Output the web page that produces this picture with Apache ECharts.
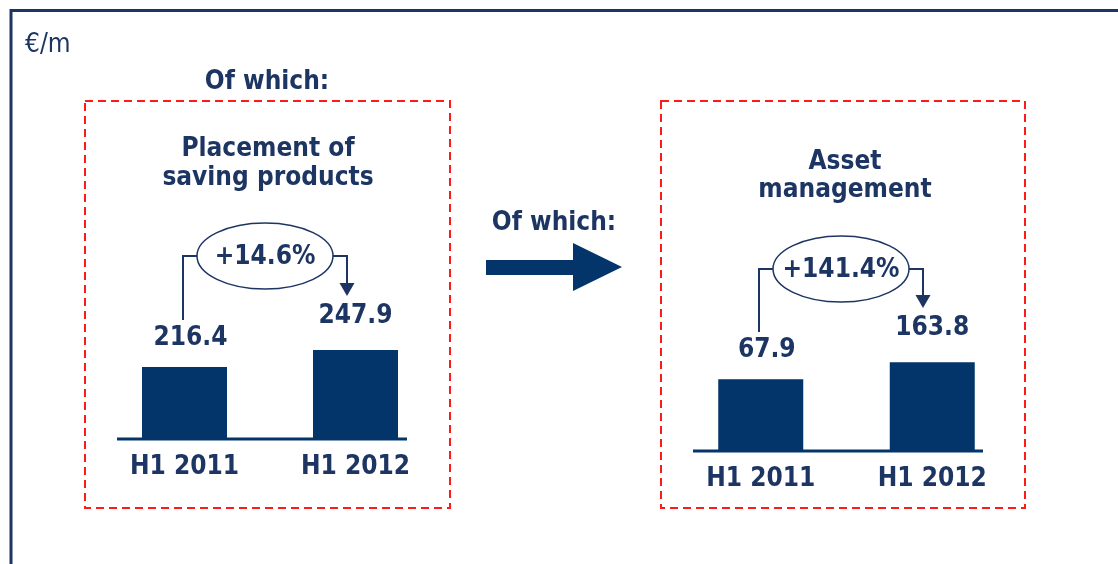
<!DOCTYPE html>
<html>
<head>
<meta charset="utf-8">
<script src="https://cdn.jsdelivr.net/npm/echarts@6/dist/echarts.min.js"></script>
<style>
  html, body { margin: 0; padding: 0; background: #fff; }
  #chart { width: 1118px; height: 564px; }
</style>
</head>
<body>
<div id="chart"></div>
<script>
// data
const categories = ['H1 2011', 'H1 2012'];
const savingValues = [216.4, 247.9];
const assetValues = [67.9, 163.8];
const growthLabels = ['+14.6%', '+141.4%'];
const panelTitles = ['Placement of\nsaving products', 'Asset\nmanagement'];
const unitLabel = '€/m';
const subLabel = 'Of which:';

const NAVY = '#1d3563';
const BAR = '#03346a';
const RED = '#ff1a1a';
const FONT = '"DejaVu Sans Condensed", "DejaVu Sans", sans-serif';

// the bars are not drawn to scale on the slide, so each panel gets its own axis window
const grids = [
  { left: 99, top: 304, width: 342, height: 135 },
  { left: 675, top: 345, width: 343, height: 106 }
];
const yRanges = [
  { min: 83, max: 333 },
  { min: -338, max: 262 }
];

const chart = echarts.init(document.getElementById('chart'));

function boldText(x, y, text, size) {
  return {
    type: 'text', x: x, y: y, z: 10,
    style: {
      text: text, fill: NAVY, font: 'bold ' + size + 'px ' + FONT,
      align: 'center', verticalAlign: 'middle'
    }
  };
}

function growthMarker(cx, cy, leftX, leftBottom, rightX, tipY, label) {
  return [
    { type: 'polyline', shape: { points: [[leftX, leftBottom], [leftX, cy], [cx - 68, cy]] },
      style: { stroke: NAVY, lineWidth: 2, fill: null } },
    { type: 'polyline', shape: { points: [[cx + 68, cy], [rightX, cy], [rightX, tipY - 12]] },
      style: { stroke: NAVY, lineWidth: 2, fill: null } },
    { type: 'polygon', shape: { points: [[rightX - 7.5, tipY - 13], [rightX + 7.5, tipY - 13], [rightX, tipY]] },
      style: { fill: NAVY } },
    { type: 'ellipse', shape: { cx: cx, cy: cy, rx: 68, ry: 33 },
      style: { stroke: NAVY, lineWidth: 1.5, fill: '#fff' } },
    boldText(cx, cy + 1, label, 26)
  ];
}

const base0 = grids[0].top + grids[0].height;
const base1 = grids[1].top + grids[1].height;

const graphics = [
  // frame
  { type: 'polyline', shape: { points: [[11, 564], [11, 10.5], [1118, 10.5]] },
    style: { stroke: NAVY, lineWidth: 3, fill: null } },
  { type: 'text', x: 25, y: 45,
    style: { text: unitLabel, fill: NAVY, font: '26px ' + FONT, verticalAlign: 'middle' } },
  boldText(267, 82, subLabel, 26),
  // dashed boxes
  { type: 'rect', shape: { x: 85, y: 101, width: 365, height: 407 },
    style: { stroke: RED, lineWidth: 2, lineDash: [8, 5], fill: null } },
  { type: 'rect', shape: { x: 661, y: 101, width: 364, height: 407 },
    style: { stroke: RED, lineWidth: 2, lineDash: [8, 5], fill: null } },
  // panel titles
  { type: 'text', x: 268, y: 164,
    style: { text: panelTitles[0], fill: NAVY, font: 'bold 26px ' + FONT,
      align: 'center', verticalAlign: 'middle', lineHeight: 29 } },
  { type: 'text', x: 845, y: 176,
    style: { text: panelTitles[1], fill: NAVY, font: 'bold 26px ' + FONT,
      align: 'center', verticalAlign: 'middle', lineHeight: 28 } },
  // middle arrow
  boldText(554, 223, subLabel, 26),
  { type: 'polygon', shape: { points: [[486, 260], [573, 260], [573, 243], [622, 267], [573, 291], [573, 275], [486, 275]] },
    style: { fill: BAR } },
  // baselines
  { type: 'line', shape: { x1: 117, y1: base0, x2: 407, y2: base0 }, style: { stroke: BAR, lineWidth: 3 } },
  { type: 'line', shape: { x1: 693, y1: base1, x2: 983, y2: base1 }, style: { stroke: BAR, lineWidth: 3 } }
]
  .concat(growthMarker(265, 256, 183, 320, 347, 296, growthLabels[0]))
  .concat(growthMarker(841, 269, 759, 332, 923, 308, growthLabels[1]));

function barData(values) {
  return values.map((v, i) => ({
    value: v,
    label: { distance: i === 0 ? 16 : 21, offset: [i === 0 ? 6 : 0, 0] }
  }));
}

const option = {
  animation: false,
  grid: grids,
  xAxis: grids.map((g, i) => ({
    type: 'category',
    gridIndex: i,
    data: categories,
    axisLine: { show: false, onZero: false },
    axisTick: { show: false },
    axisLabel: { color: NAVY, fontSize: 26, fontWeight: 'bold', fontFamily: FONT, margin: 15 }
  })),
  yAxis: yRanges.map((r, i) => ({
    type: 'value',
    gridIndex: i,
    min: r.min,
    max: r.max,
    startValue: r.min,
    show: false,
    splitLine: { show: false }
  })),
  series: [savingValues, assetValues].map((vals, i) => ({
    type: 'bar',
    xAxisIndex: i,
    yAxisIndex: i,
    data: barData(vals),
    barWidth: 85,
    itemStyle: { color: BAR },
    label: {
      show: true, position: 'top', color: NAVY,
      fontSize: 26, fontWeight: 'bold', fontFamily: FONT
    }
  })),
  graphic: graphics
};

chart.setOption(option);
</script>
</body>
</html>
